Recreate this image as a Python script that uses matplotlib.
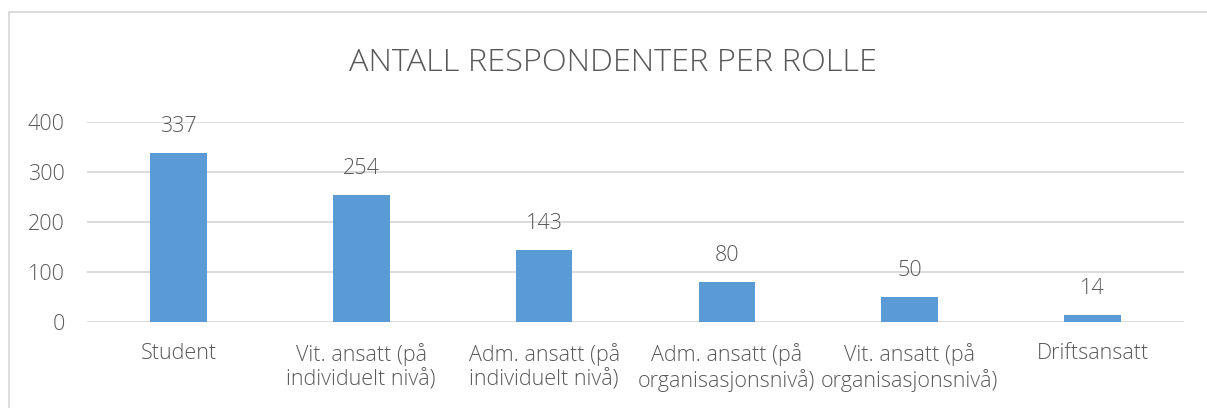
import matplotlib
matplotlib.use("Agg")
import matplotlib.pyplot as plt
from matplotlib.patches import Rectangle

# data
roles = ["Student", "Vit. ansatt (på\nindividuelt nivå)", "Adm. ansatt (på\nindividuelt nivå)",
         "Adm. ansatt (på\norganisasjonsnivå)", "Vit. ansatt (på\norganisasjonsnivå)", "Driftsansatt"]
counts = [337, 254, 143, 80, 50, 14]
yticks = [0, 100, 200, 300, 400]

TEXT = "#595959"
GRID = "#D9D9D9"
BAR = "#5B9BD5"

plt.rcParams['font.family'] = ['Open Sans', 'DejaVu Sans']

fig = plt.figure(figsize=(12.07, 4.08), dpi=100)
W, H = 1207, 408
ax = fig.add_axes([87 / W, 86.3 / H, (1184 - 87) / W, (286.3 - 86.3) / H])

x = range(len(roles))
ax.bar(x, counts, width=0.31, color=BAR, zorder=3)
ax.set_xlim(-0.5, len(roles) - 0.5)
ax.set_ylim(0, 400)
ax.set_yticks(yticks)
ax.set_xticks(list(x))
ax.set_xticklabels(roles, linespacing=1.2)

for xi, v in zip(x, counts):
    ax.annotate(str(v), (xi, v), xytext=(0, 19), textcoords="offset points",
                ha="center", va="center", fontsize=15.5, color=TEXT, fontweight="light")

ax.grid(axis="y", color=GRID, linewidth=1.3, zorder=0)
for s in ax.spines.values():
    s.set_visible(False)
ax.tick_params(axis="both", length=0, labelsize=15.5, colors=TEXT)
ax.tick_params(axis="y", pad=16)
ax.tick_params(axis="x", pad=15)
for lab in ax.get_xticklabels() + ax.get_yticklabels():
    lab.set_fontweight("light")

fig.text(613 / W, 1 - 63 / H, "ANTALL RESPONDENTER PER ROLLE", ha="center", va="center",
         fontsize=23.4, color=TEXT, fontweight="light")

# outer chart border (cut off at right and bottom)
fig.patches.append(Rectangle((9 / W, -0.1), 1.2, 1.1 - 12 / H, transform=fig.transFigure,
                             fill=False, edgecolor=GRID, linewidth=1.3))

fig.savefig("out.png", dpi=100)
